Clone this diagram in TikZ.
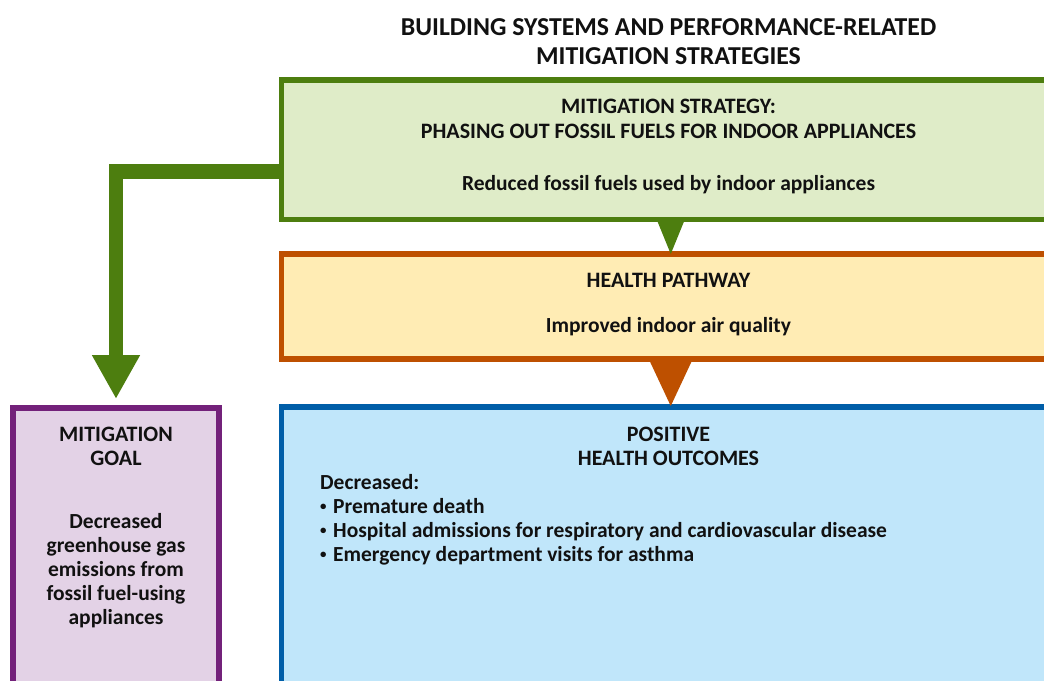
\documentclass[tikz,border=0pt]{standalone}
\usepackage{fontspec}
\setmainfont{Carlito}
\usetikzlibrary{arrows.meta}
\definecolor{grnB}{HTML}{4D7E0F}
\definecolor{grnF}{HTML}{DFECC8}
\definecolor{orgB}{HTML}{BE5000}
\definecolor{orgF}{HTML}{FFECB4}
\definecolor{bluB}{HTML}{005EA8}
\definecolor{bluF}{HTML}{C0E6FA}
\definecolor{purB}{HTML}{73217A}
\definecolor{purF}{HTML}{E3D2E6}
\definecolor{txtC}{HTML}{111111}
\tikzset{
  box/.style={rectangle, line width=5.5pt, inner sep=0pt, outer sep=0pt, anchor=north west},
  txt/.style={font=\bfseries\fontsize{21.5}{24}\selectfont, text=txtC, inner sep=0pt, anchor=base},
  captxt/.style={font=\bfseries\fontsize{22}{24}\selectfont, text=txtC, inner sep=0pt, anchor=base},
  ttl/.style={font=\bfseries\fontsize{25.8}{29}\selectfont, text=txtC, inner sep=0pt, anchor=base},
  lft/.style={txt, anchor=base west},
}
\newcommand{\bul}{\makebox[13pt][l]{\raisebox{2.2pt}{\scalebox{0.6}{•}}}}
\begin{document}
\begin{tikzpicture}[x=1pt,y=-1pt]
\useasboundingbox (0,0) rectangle (1044,680);
\clip (0,0) rectangle (1044,680);
\fill[white] (0,0) rectangle (1044,680);

% boxes
\node[box, draw=grnB, fill=grnF, minimum width=778.5pt, minimum height=139.7pt] (green) at (281.5,80) {};
\node[box, draw=orgB, fill=orgF, minimum width=778.5pt, minimum height=105pt] (orange) at (281.5,254) {};
\node[box, draw=bluB, fill=bluF, minimum width=778.5pt, minimum height=300pt] (blue) at (281.5,407) {};
\node[box, draw=purB, fill=purF, minimum width=206pt, minimum height=300pt] (purple) at (13,408) {};

% connectors
\fill[grnB] ([xshift=-14pt]green.south) -- ([xshift=14pt]green.south) -- (orange.north) -- cycle;
\fill[orgB] ([xshift=-22pt]orange.south) -- ([xshift=22pt]orange.south) -- ([yshift=1pt]blue.north) -- cycle;
\draw[grnB, line width=14.5pt, line join=miter, -{Triangle[width=45pt,length=44pt]}]
  ([yshift=-21.6pt]green.west) -| ([yshift=9pt]purple.north);

% title
\node[ttl] (t1) at (668.5,35) {BUILDING SYSTEMS AND PERFORMANCE-RELATED};
\node[ttl] (t2) at (668.5,64) {MITIGATION STRATEGIES};

% green text
\node[captxt] (g1) at (668.5,113) {MITIGATION STRATEGY:};
\node[captxt] (g2) at (668.5,138) {PHASING OUT FOSSIL FUELS FOR INDOOR APPLIANCES};
\node[txt] (g3) at (668.5,190) {Reduced fossil fuels used by indoor appliances};

% orange text
\node[captxt] (o1) at (668.5,287) {HEALTH PATHWAY};
\node[txt] (o2) at (668.5,332) {Improved indoor air quality};

% blue text
\node[captxt] (b1) at (668.5,441) {POSITIVE};
\node[captxt] (b2) at (668.5,465) {HEALTH OUTCOMES};
\node[lft] (b3) at (320,489) {Decreased:};
\node[lft] (b4) at (320,513) {\bul Premature death};
\node[lft] (b5) at (320,537) {\bul Hospital admissions for respiratory and cardiovascular disease};
\node[lft] (b6) at (320,561) {\bul Emergency department visits for asthma};

% purple text
\node[captxt] (p1) at (116,441) {MITIGATION};
\node[captxt] (p2) at (116,465) {GOAL};
\node[txt] (p3) at (116,528) {Decreased};
\node[txt] (p4) at (116,552) {greenhouse gas};
\node[txt] (p5) at (116,576) {emissions from};
\node[txt] (p6) at (116,600) {fossil fuel-using};
\node[txt] (p7) at (116,624) {appliances};
\end{tikzpicture}
\end{document}
